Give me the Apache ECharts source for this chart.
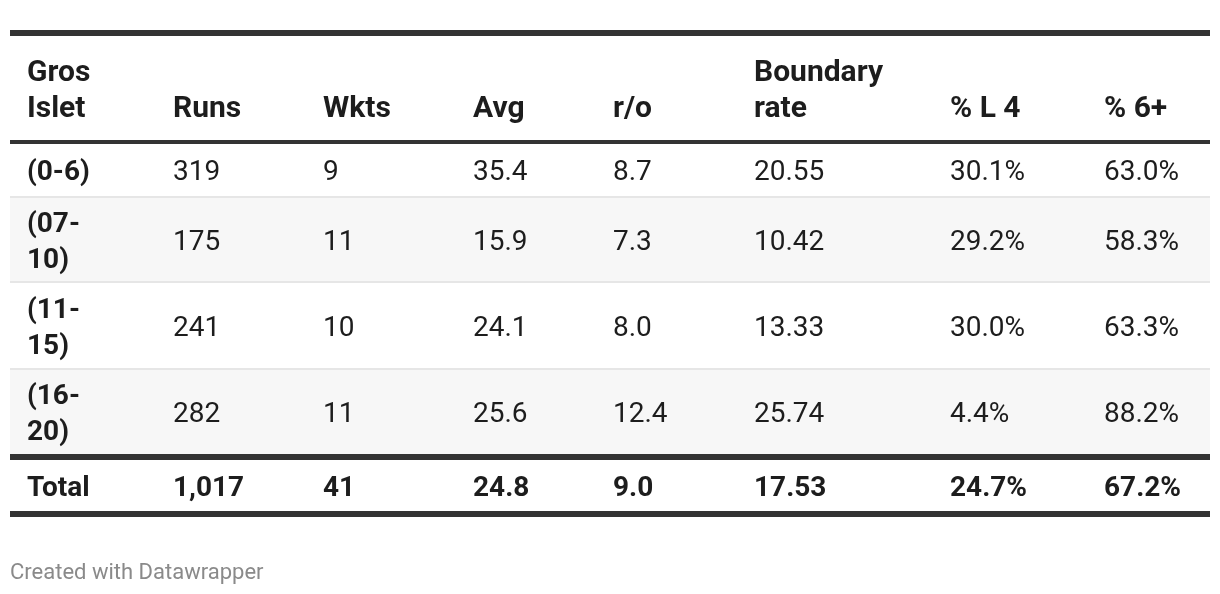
<!DOCTYPE html>
<html>
<head>
<meta charset="utf-8">
<script src="https://cdn.jsdelivr.net/npm/echarts@6/dist/echarts.min.js"></script>
<style>
html,body{margin:0;padding:0;background:#fff;}
#chart{width:1220px;height:594px;}
</style>
</head>
<body>
<div id="chart"></div>
<script>
// ---- data ----
const headers = ['Gros\nIslet', 'Runs', 'Wkts', 'Avg', 'r/o', 'Boundary\nrate', '% L 4', '% 6+'];
const phases = ['(0-6)', '(07-\n10)', '(11-\n15)', '(16-\n20)'];
const runs = [319, 175, 241, 282];
const wkts = [9, 11, 10, 11];
const avg = [35.4, 15.9, 24.1, 25.6];
const runsPerOver = [8.7, 7.3, 8.0, 12.4];
const boundaryRate = [20.55, 10.42, 13.33, 25.74];
const pctL4 = [30.1, 29.2, 30.0, 4.4];
const pct6 = [63.0, 58.3, 63.3, 88.2];
const totalLabel = 'Total';
const totals = [1017, 41, 24.8, 9.0, 17.53, 24.7, 67.2];
const footer = 'Created with Datawrapper';

// ---- formatting ----
const fmtInt = v => v.toLocaleString('en-US');
const fmt1 = v => v.toFixed(1);
const fmt2 = v => v.toFixed(2);
const fmtPct = v => v.toFixed(1) + '%';
const formats = [fmtInt, fmtInt, fmt1, fmt1, fmt2, fmtPct, fmtPct];
const valueCols = [runs, wkts, avg, runsPerOver, boundaryRate, pctL4, pct6];

// ---- layout ----
const FONT = 'Roboto, "Noto Sans", sans-serif';
const FS = 28, HFS = 30, LH = 36;
const TEXT = '#1d1d1d';
const LEFT = 10, RIGHT = 1210;
const colX = [27, 173, 323, 473, 613, 754, 950, 1104];
const rowTop = [144, 198, 283, 370];
const rowBot = [196, 281, 368, 454];
const rowBg = ['#ffffff', '#f7f7f7', '#ffffff', '#f7f7f7'];
const DY = 3;

const g = [];
function rect(y, h, color) {
  g.push({type: 'rect', shape: {x: LEFT, y: y, width: RIGHT - LEFT, height: h}, style: {fill: color}, silent: true});
}
function txt(x, y, s, bold, color, size, lh) {
  g.push({type: 'text', x: x, y: y, silent: true,
    style: {text: s, fill: color || TEXT, font: (bold ? 'bold ' : '') + (size || FS) + 'px ' + FONT,
      lineHeight: lh || LH, textAlign: 'left', textVerticalAlign: 'middle'}});
}

// row backgrounds and separators
for (let i = 0; i < phases.length; i++) {
  rect(rowTop[i], rowBot[i] - rowTop[i], rowBg[i]);
  if (i < phases.length - 1) rect(rowBot[i], rowTop[i + 1] - rowBot[i], '#e6e6e6');
}
// thick rules
rect(30, 6, '#333333');
rect(140, 4, '#333333');
rect(454, 6, '#333333');
rect(511, 6, '#333333');

// header (bottom-aligned)
headers.forEach((h, c) => {
  const lines = h.split('\n').length;
  txt(colX[c], 106 + DY - (lines - 1) * LH / 2, h, true, TEXT, HFS, LH);
});

// body rows
phases.forEach((p, r) => {
  const cy = (rowTop[r] + rowBot[r]) / 2 + DY;
  txt(colX[0], cy, p, true);
  valueCols.forEach((col, c) => txt(colX[c + 1], cy, formats[c](col[r]), false));
});

// totals row
txt(colX[0], 486 + DY, totalLabel, true);
totals.forEach((v, c) => txt(colX[c + 1], 486 + DY, formats[c](v), true));

// footer
txt(LEFT, 573, footer, false, '#8a8a8a', 22, 28);

const chart = echarts.init(document.getElementById('chart'), null, {renderer: 'canvas'});
chart.setOption({animation: false, backgroundColor: '#fff', graphic: {elements: g}});
</script>
</body>
</html>
